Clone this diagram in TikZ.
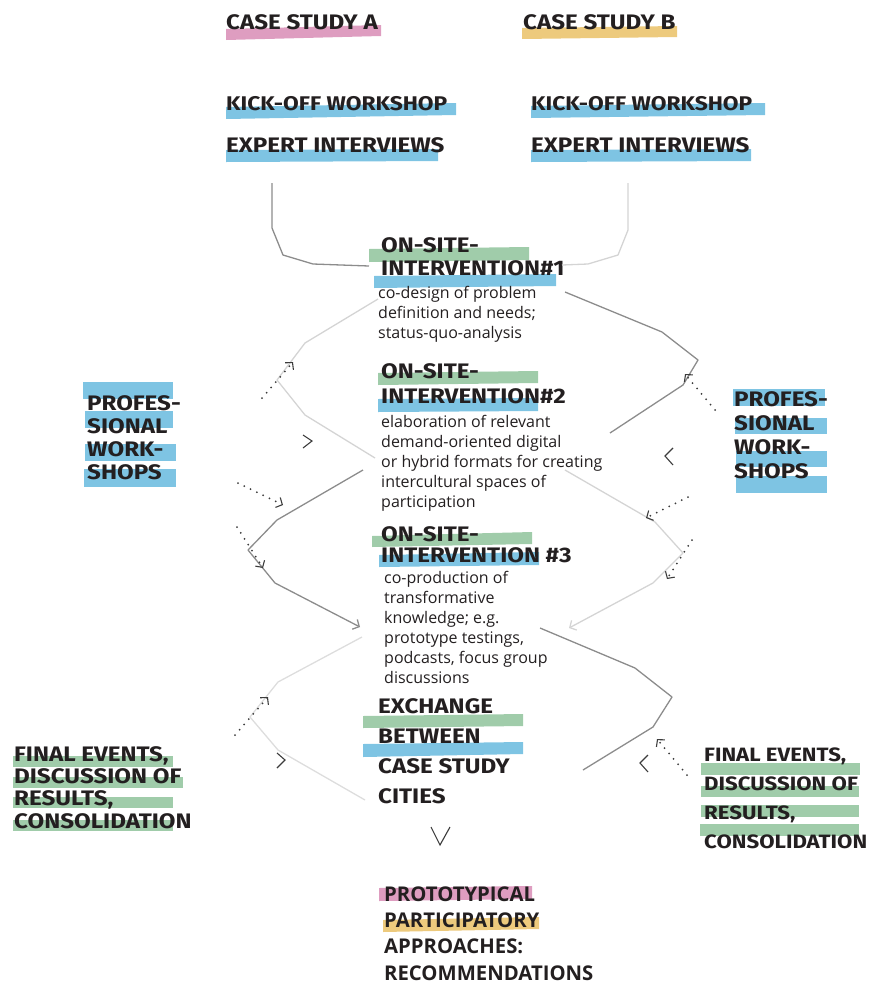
\documentclass[tikz,border=0pt]{standalone}
\usepackage{fontspec}
\usetikzlibrary{arrows.meta}
\newfontfamily\headfont{Fira Sans}[FakeStretch=1.15]
\newfontfamily\bodyfont{Open Sans}
\definecolor{ink}{RGB}{35,31,32}
\definecolor{hlpink}{RGB}{222,157,192}
\definecolor{hlyellow}{RGB}{237,202,125}
\definecolor{hlblue}{RGB}{126,196,227}
\definecolor{hlgreen}{RGB}{160,204,170}
\definecolor{linemid}{RGB}{140,140,140}
\definecolor{linelight}{RGB}{212,212,212}
\definecolor{dotgray}{RGB}{60,60,60}
\begin{document}
\begin{tikzpicture}[x=1pt,y=-1pt,
    head/.style={anchor=base west,inner sep=0pt,align=left,text=ink,
        font=\headfont\bfseries\fontsize{21}{#1}\selectfont},
    head/.default=23,
    desc/.style={anchor=base west,inner sep=0pt,align=left,text=ink,
        font=\bodyfont\fontsize{16}{20}\selectfont},
    result/.style={anchor=base west,inner sep=0pt,align=left,text=ink,
        font=\bodyfont\bfseries\fontsize{20.3}{26.3}\selectfont},
    zigmid/.style={draw=linemid,line width=1.3pt,line join=round},
    ziglight/.style={draw=linelight,line width=1.3pt,line join=round},
    dotarrow/.style={draw=dotgray,line width=2pt,line cap=round,
        dash pattern=on 0pt off 7pt,
        -{Straight Barb[length=5pt,width=11pt,line width=1.1pt]}},
    chev/.style={draw=dotgray,line width=1.1pt},
]
    \useasboundingbox (0,0) rectangle (871,983);

    % Highlight bars
    \fill[hlpink] (226,29) -- (381,25) -- (381,36) -- (226,40) -- cycle;
    \fill[hlyellow] (522,28) -- (677,26) -- (677,37) -- (522,39) -- cycle;
    \fill[hlblue] (226,107) -- (456,103) -- (456,115) -- (226,119) -- cycle;
    \fill[hlblue] (226,150) -- (438,149) -- (438,161) -- (226,162) -- cycle;
    \fill[hlblue] (531,106) -- (765,103) -- (765,115) -- (531,118) -- cycle;
    \fill[hlblue] (531,150) -- (751,149) -- (751,161) -- (531,162) -- cycle;
    \fill[hlgreen] (369,249) -- (529,247) -- (529,260) -- (369,262) -- cycle;
    \fill[hlblue] (374,276) -- (556,274) -- (556,286) -- (374,288) -- cycle;
    \fill[hlgreen] (378,373) -- (538,371) -- (538,383) -- (378,385) -- cycle;
    \fill[hlblue] (378,399) -- (538,398) -- (538,411) -- (378,412) -- cycle;
    \fill[hlgreen] (372,536) -- (532,532) -- (532,544) -- (372,547) -- cycle;
    \fill[hlblue] (379,555) -- (539,552) -- (539,565) -- (379,567) -- cycle;
    \fill[hlgreen] (363,716) -- (523,714) -- (523,726) -- (363,728) -- cycle;
    \fill[hlblue] (363,744) -- (523,742) -- (523,754) -- (363,757) -- cycle;
    \fill[hlpink] (379,888) -- (532,886) -- (532,899) -- (379,901) -- cycle;
    \fill[hlyellow] (383,920) -- (539,917) -- (539,929) -- (383,932) -- cycle;
    \fill[hlblue] (83,382) rectangle (173,399);
    \fill[hlblue] (85,411) rectangle (173,428);
    \fill[hlblue] (85,444) rectangle (176,461);
    \fill[hlblue] (84,469) rectangle (176,487);
    \fill[hlblue] (733,389) rectangle (825,406);
    \fill[hlblue] (735,418) rectangle (827,434);
    \fill[hlblue] (736,451) rectangle (827,467);
    \fill[hlblue] (736,476) rectangle (827,493);
    \fill[hlgreen] (13,756) rectangle (173,767);
    \fill[hlgreen] (13,777) rectangle (183,788);
    \fill[hlgreen] (13,797) rectangle (173,808);
    \fill[hlgreen] (13,820) rectangle (173,831);
    \fill[hlgreen] (701,763) rectangle (860,775);
    \fill[hlgreen] (701,786) rectangle (859,797);
    \fill[hlgreen] (701,805) rectangle (859,817);
    \fill[hlgreen] (700,824) rectangle (859,836);

    % Case studies and kick-off
    \node[head] (caseA) at (226,29) {CASE STUDY A};
    \node[head] (caseB) at (523,29) {CASE STUDY B};
    \node[head,font=\headfont\bfseries\fontsize{19.8}{23}\selectfont] (kickA) at (226,110) {KICK-OFF WORKSHOP};
    \node[head] (expertA) at (226,152) {EXPERT INTERVIEWS};
    \node[head,font=\headfont\bfseries\fontsize{19.8}{23}\selectfont] (kickB) at (531,110) {KICK-OFF WORKSHOP};
    \node[head] (expertB) at (531,152) {EXPERT INTERVIEWS};

    % On-site interventions (placed at their last line)
    \node[head=23] (siteA) at (381,275) {ON-SITE-\\INTERVENTION\#1};
    \node[desc] (textA) at (378,338) {co-design of problem\\definition and needs;\\status-quo-analysis};
    \node[head=25] (siteB) at (381,403) {ON-SITE-\\INTERVENTION\#2};
    \node[desc] (textB) at (381,507) {elaboration of relevant\\demand-oriented digital\\or hybrid formats for creating\\intercultural spaces of\\participation};
    \node[head=21] (siteC) at (381,562) {ON-SITE-\\INTERVENTION \#3};
    \node[desc] (textC) at (384,683) {co-production of\\transformative\\knowledge; e.g.\\prototype testings,\\podcasts, focus group\\discussions};

    % Exchange and result
    \node[head=29.7] (exchange) at (378,803) {EXCHANGE\\BETWEEN\\CASE STUDY\\CITIES};
    \node[result] (recomm) at (384,980) {PROTOTYPICAL\\PARTICIPATORY\\APPROACHES:\\RECOMMENDATIONS};

    % Side blocks
    \node[head=23] (profL) at (87,479) {PROFES-\\SIONAL\\WORK-\\SHOPS};
    \node[head=23.7] (profR) at (734,478) {PROFES-\\SIONAL\\WORK-\\SHOPS};
    \node[head=22.3] (finalL) at (14,828) {FINAL EVENTS,\\DISCUSSION OF\\RESULTS,\\CONSOLIDATION};
    \node[head=28.7,font=\headfont\bfseries\fontsize{19.3}{28.7}\selectfont] (finalR) at (704,848) {FINAL EVENTS,\\DISCUSSION OF\\RESULTS,\\CONSOLIDATION};

    % Connector ends
    \coordinate (inA) at (369,266);
    \coordinate (inB) at (562,265);
    \coordinate (outA) at (378,299);
    \coordinate (outA2) at (565,292);
    \coordinate (outB) at (363,470);
    \coordinate (outB2) at (565,470);
    \coordinate (inC) at (360,627);
    \coordinate (inC2) at (569,628);
    \coordinate (outC) at (362,637);
    \coordinate (outC2) at (540,628);
    \coordinate (inX) at (365,800);
    \coordinate (inX2) at (583,770);

    % Into intervention #1
    \draw[zigmid] (272,183) -- (272,228) -- (283,255) -- (313,264) -- (inA);
    \draw[ziglight] (628,183) -- (628,230) -- (618,255) -- (588,264) -- (inB);

    % Towards intervention #2
    \draw[ziglight] (outA) -- (305,343) -- (277,380) -- (305,415) -- (375,458);
    \draw[zigmid] (outA2) -- (662,332) -- (698,360) -- (683,385) -- (610,433);

    % Towards intervention #3
    \draw[zigmid,-{Straight Barb[length=5pt,width=11pt]}] (outB) -- (277,520) -- (248,550) -- (275,583) -- (inC);
    \draw[ziglight,-{Straight Barb[length=5pt,width=11pt]}] (outB2) -- (655,522) -- (683,553) -- (653,583) -- (inC2);

    % Towards exchange
    \draw[draw=linelight!80,line width=1.3pt] (outC) -- (278,682) -- (250,717) -- (278,750) -- (inX);
    \draw[zigmid] (outC2) -- (635,668) -- (672,697) -- (653,727) -- (inX2);

    % Workshop and event inputs
    \coordinate (dotL1) at (262,398);
    \coordinate (dotL2) at (238,483);
    \coordinate (dotL3) at (237,527);
    \coordinate (dotL4) at (235,735);
    \coordinate (dotR1) at (715,410);
    \coordinate (dotR2) at (688,497);
    \coordinate (dotR3) at (692,540);
    \coordinate (dotR4) at (687,775);
    \draw[dotarrow] (dotL1) -- (293,362);
    \draw[dotarrow] (dotL2) -- (283,505);
    \draw[dotarrow] (dotL3) -- (263,568);
    \draw[dotarrow] (dotL4) -- (268,697);
    \draw[dotarrow] (dotR1) -- (685,374);
    \draw[dotarrow] (dotR2) -- (646,518);
    \draw[dotarrow] (dotR3) -- (667,579);
    \draw[dotarrow] (dotR4) -- (657,739);

    % Direction marks
    \draw[chev] (303,435) -- (312,441) -- (303,448);
    \draw[chev] (673,448) -- (665,456) -- (673,465);
    \draw[chev] (277,753) -- (285,760) -- (277,768);
    \draw[chev] (648,755) -- (640,763) -- (648,772);
    \draw[chev] (431,827) -- (440,845) -- (450,827);
\end{tikzpicture}
\end{document}
